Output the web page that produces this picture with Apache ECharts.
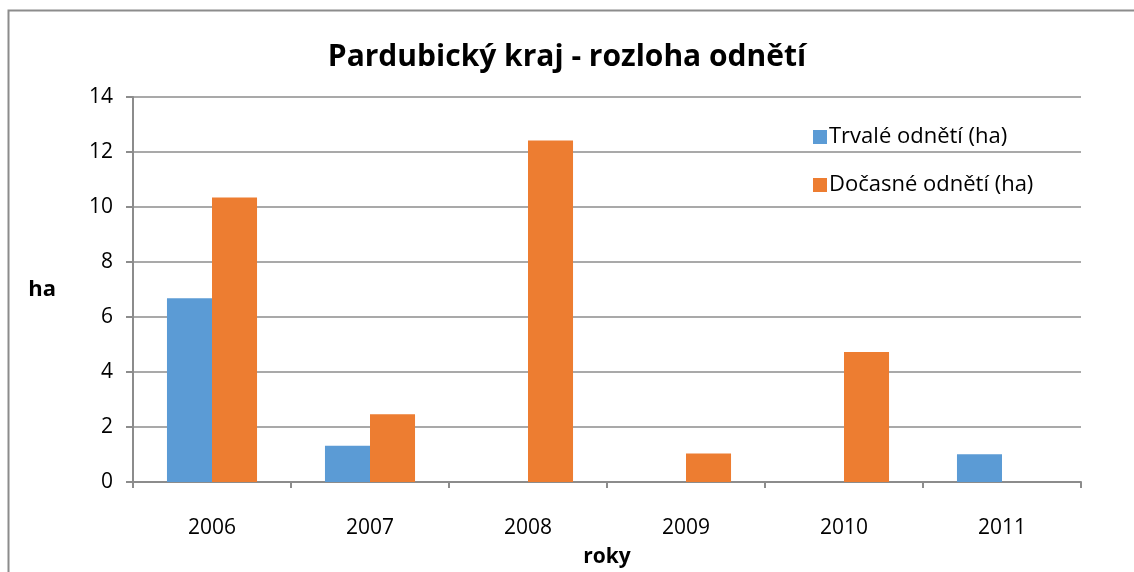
<!DOCTYPE html>
<html>
<head>
<meta charset="utf-8">
<script src="https://cdn.jsdelivr.net/npm/echarts@6/dist/echarts.min.js"></script>
<style>html,body{margin:0;padding:0;background:#fff}#c{width:1134px;height:572px}</style>
</head>
<body>
<div id="c"></div>
<script>
const categories = ['2006', '2007', '2008', '2009', '2010', '2011'];
const trvale = [6.68, 1.32, 0, 0, 0, 1.01];
const docasne = [10.35, 2.46, 12.42, 1.04, 4.73, 0];
const seriesNames = ['Trvalé odnětí (ha)', 'Dočasné odnětí (ha)'];
const yTicks = {min: 0, max: 14, interval: 2};

const font = '"Open Sans", "Noto Sans", sans-serif';
const chart = echarts.init(document.getElementById('c'));
chart.setOption({
  animation: false,
  backgroundColor: '#fff',
  textStyle: {fontFamily: font},
  title: {
    text: 'Pardubický kraj - rozloha odnětí',
    left: 'center', top: 37,
    textStyle: {fontFamily: font, fontSize: 30, fontWeight: 'bold', color: '#000'}
  },
  graphic: [{
    type: 'rect', silent: true,
    shape: {x: 8.5, y: 10.5, width: 1300, height: 800},
    style: {fill: 'none', stroke: '#8c8c8c', lineWidth: 2}
  }],
  legend: {
    orient: 'vertical', left: 808, top: 121, itemGap: 26,
    itemWidth: 14, itemHeight: 14, icon: 'rect',
    textStyle: {fontFamily: font, fontSize: 22, color: '#000', padding: [0, 0, 0, -3]},
    data: seriesNames
  },
  grid: {left: 133, right: 53, top: 97, bottom: 90, containLabel: false, outerBoundsMode: 'none'},
  xAxis: {
    type: 'category', data: categories,
    name: 'roky', nameLocation: 'middle', nameGap: 65,
    nameTextStyle: {fontFamily: font, fontSize: 21, fontWeight: 'bold', color: '#000'},
    axisLine: {lineStyle: {color: '#8c8c8c', width: 2}},
    axisTick: {show: true, length: 6, lineStyle: {color: '#8c8c8c', width: 2}},
    axisLabel: {fontFamily: font, fontSize: 21, color: '#000', margin: 36}
  },
  yAxis: {
    type: 'value', min: yTicks.min, max: yTicks.max, interval: yTicks.interval,
    name: 'ha', nameLocation: 'middle', nameGap: 77, nameRotate: 0,
    nameTextStyle: {fontFamily: font, fontSize: 22, fontWeight: 'bold', color: '#000'},
    axisLine: {show: true, lineStyle: {color: '#8c8c8c', width: 2}},
    axisTick: {show: true, length: 7, lineStyle: {color: '#8c8c8c', width: 2}},
    axisLabel: {fontFamily: font, fontSize: 21, color: '#000', margin: 20},
    splitLine: {lineStyle: {color: '#8c8c8c', width: 1.5}}
  },
  series: [
    {name: seriesNames[0], type: 'bar', data: trvale, barGap: '0%', barCategoryGap: '43%',
     itemStyle: {color: '#5b9bd5'}},
    {name: seriesNames[1], type: 'bar', data: docasne, barGap: '0%', barCategoryGap: '43%',
     itemStyle: {color: '#ed7d31'}}
  ]
});
</script>
</body>
</html>
